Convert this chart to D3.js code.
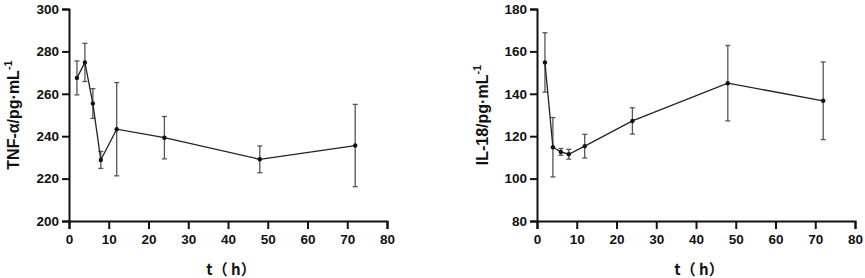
<!DOCTYPE html>
<html>
<head>
<meta charset="utf-8">
<script src="https://cdn.jsdelivr.net/npm/d3@7"></script>
<style>
  body { margin: 0; background: #fff; }
  text { font-family: "Liberation Sans", Arial, sans-serif; font-weight: bold; fill: #111; }
</style>
</head>
<body>
<svg id="chart" width="865" height="278"></svg>
<script>
// sampling times (h)
const times = [2, 4, 6, 8, 12, 24, 48, 72];

// TNF-α mean and SD
const tnfMean = [267.5, 274.8, 255.4, 228.8, 243.3, 239.3, 229.1, 235.6];
const tnfSd = [8, 9, 7, 4, 22, 10, 6.3, 19.4];

// IL-18 mean and SD
const il18Mean = [154.8, 114.8, 112.6, 111.5, 115.3, 127.2, 145.0, 136.7];
const il18Sd = [14, 14, 1.6, 2.3, 5.6, 6.2, 17.8, 18.3];

// tick labels
const xTicks = [0, 10, 20, 30, 40, 50, 60, 70, 80];
const tnfTicks = [200, 220, 240, 260, 280, 300];
const il18Ticks = [80, 100, 120, 140, 160, 180];

const svg = d3.select('#chart');
const plotTop = 9, plotBottom = 221;

function drawPanel(left, mean, sd, yDomain, yTicks, label, labelX) {
    const x = d3.scaleLinear().domain([0, 80]).range([left, left + 318]);
    const y = d3.scaleLinear().domain(yDomain).range([plotBottom, plotTop]);
    const g = svg.append('g');

    // axes
    const xAxis = g.append('g')
        .attr('transform', `translate(0,${plotBottom})`)
        .call(d3.axisBottom(x).tickValues(xTicks).tickSize(8).tickPadding(5).tickFormat(d3.format('d')));
    const yAxis = g.append('g')
        .attr('transform', `translate(${left},0)`)
        .call(d3.axisLeft(y).tickValues(yTicks).tickSize(7).tickPadding(3).tickFormat(d3.format('d')));
    [xAxis, yAxis].forEach(a => {
        a.select('.domain').attr('stroke', '#111').attr('stroke-width', 2);
        a.selectAll('.tick line').attr('stroke', '#111').attr('stroke-width', 2);
        a.selectAll('.tick text').style('font-size', '13.5px').style('font-family', '"Liberation Sans", Arial, sans-serif')
            .style('font-weight', 'bold').attr('fill', '#111');
    });

    const pts = times.map((t, i) => ({ t, m: mean[i], s: sd[i] }));

    // error bars
    const eb = g.selectAll('.eb').data(pts).enter().append('g').attr('stroke', '#555').attr('stroke-width', 1.3);
    eb.append('line')
        .attr('x1', d => x(d.t)).attr('x2', d => x(d.t))
        .attr('y1', d => y(d.m + d.s)).attr('y2', d => y(d.m - d.s));
    eb.append('line')
        .attr('x1', d => x(d.t) - 2.5).attr('x2', d => x(d.t) + 2.5)
        .attr('y1', d => y(d.m + d.s)).attr('y2', d => y(d.m + d.s));
    eb.append('line')
        .attr('x1', d => x(d.t) - 2.5).attr('x2', d => x(d.t) + 2.5)
        .attr('y1', d => y(d.m - d.s)).attr('y2', d => y(d.m - d.s));

    // mean line
    g.append('path')
        .datum(pts)
        .attr('fill', 'none')
        .attr('stroke', '#222')
        .attr('stroke-width', 1.3)
        .attr('d', d3.line().x(d => x(d.t)).y(d => y(d.m)));

    g.selectAll('.pt').data(pts).enter().append('circle')
        .attr('cx', d => x(d.t)).attr('cy', d => y(d.m)).attr('r', 2.2).attr('fill', '#111');

    // axis titles
    g.append('text')
        .attr('x', (x(0) + x(80)) / 2 + 3).attr('y', 275)
        .attr('text-anchor', 'middle')
        .style('font-size', '15px')
        .style('font-family', '"Noto Sans CJK SC", "Liberation Sans", sans-serif')
        .text('t（ h）');

    const yl = g.append('text')
        .attr('transform', `translate(${labelX},115) rotate(-90)`)
        .attr('text-anchor', 'middle').attr('dominant-baseline', 'middle')
        .style('font-size', '16px');
    yl.append('tspan').text(label);
    yl.append('tspan').attr('dy', -6).style('font-size', '11px').text('-1');
}

drawPanel(69, tnfMean, tnfSd, [200, 300], tnfTicks, 'TNF-α/pg·mL', 15);
drawPanel(537, il18Mean, il18Sd, [80, 180], il18Ticks, 'IL-18/pg·mL', 484);
</script>
</body>
</html>
